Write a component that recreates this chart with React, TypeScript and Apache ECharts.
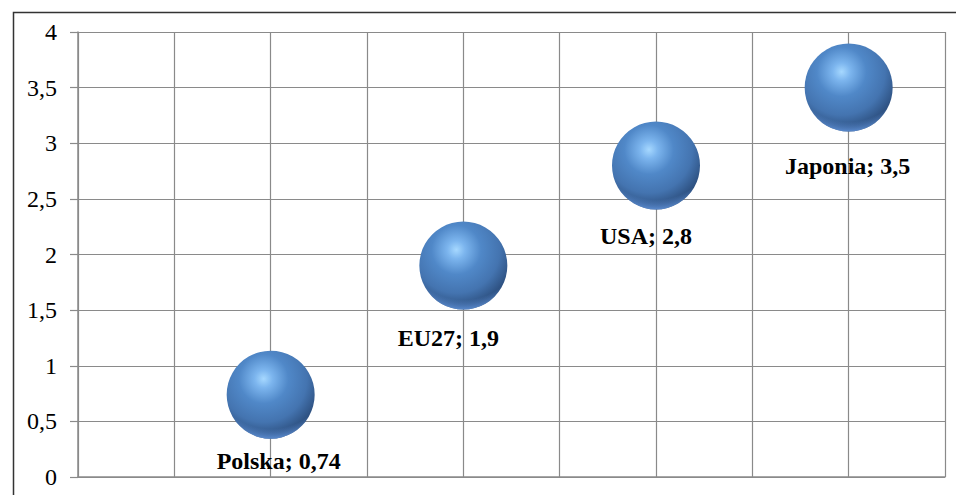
import React, { useEffect, useRef } from "react";
import * as echarts from "echarts";

const countries = ["Polska", "EU27", "USA", "Japonia"];
const xPositions = [2, 4, 6, 8];
const values = [0.74, 1.9, 2.8, 3.5];
const yTicks = ["0", "0,5", "1", "1,5", "2", "2,5", "3", "3,5", "4"];

// label nudges (style only)
const labelNudges = [[8, -6], [-15, 0], [-10, -2], [-1, 6]];

const fmt = (v: number) => String(v).replace(".", ",");
const FONT = "'Liberation Serif', 'Times New Roman', serif";

export default function App() {
  const ref = useRef<HTMLDivElement>(null);
  useEffect(() => {
    const chart = echarts.init(ref.current!, null, { renderer: "svg" });
    const sphere = {
      type: "radial",
      x: 0.42,
      y: 0.32,
      r: 0.85,
      colorStops: [
        { offset: 0, color: "#a6d8ff" },
        { offset: 0.12, color: "#7cb5ee" },
        { offset: 0.33, color: "#5088c8" },
        { offset: 0.58, color: "#4474b0" },
        { offset: 0.78, color: "#2d5080" },
        { offset: 0.95, color: "#1b2e47" },
        { offset: 1, color: "#1b2e47" },
      ],
    };
    const rim = {
      type: "radial",
      x: 0.5,
      y: 0.2,
      r: 0.8,
      colorStops: [
        { offset: 0, color: "rgba(90,140,210,0)" },
        { offset: 0.86, color: "rgba(90,140,210,0)" },
        { offset: 1, color: "rgba(95,145,215,0.9)" },
      ],
    };
    const pts = countries.map((c, i) => [xPositions[i], values[i]]);
    chart.setOption({
      animation: false,
      backgroundColor: "#fff",
      textStyle: { fontFamily: FONT },
      graphic: [
        {
          type: "rect",
          left: 11,
          top: 10,
          shape: { x: 0, y: 0, width: 960, height: 500 },
          style: { fill: "none", stroke: "#333", lineWidth: 1.5 },
          silent: true,
          z: -10,
        },
      ],
      grid: { left: 78, top: 32, right: 11, bottom: 18 },
      xAxis: {
        type: "value",
        min: 0,
        max: 9,
        interval: 1,
        axisLine: { show: true, lineStyle: { color: "#8a8a8a", width: 1.5 } },
        axisTick: { show: false },
        axisLabel: { show: false },
        splitLine: { show: true, lineStyle: { color: "#8a8a8a", width: 1.2 } },
      },
      yAxis: {
        type: "value",
        min: 0,
        max: 4,
        interval: 0.5,
        axisLine: { show: true, lineStyle: { color: "#8a8a8a", width: 1.5 } },
        axisTick: { show: true, length: 8, lineStyle: { color: "#8a8a8a", width: 1.2 } },
        axisLabel: {
          margin: 21,
          fontSize: 24,
          color: "#000",
          fontFamily: FONT,
          formatter: (v: number) => yTicks[Math.round(v * 2)] ?? fmt(v),
        },
        splitLine: { show: true, lineStyle: { color: "#8a8a8a", width: 1.2 } },
      },
      series: [
        {
          type: "scatter",
          symbol: "circle",
          symbolSize: 88,
          itemStyle: { color: sphere, opacity: 1 },
          data: countries.map((c, i) => ({
            name: c,
            value: pts[i],
            label: { offset: labelNudges[i] },
          })),
          label: {
            show: true,
            position: "bottom",
            distance: 16,
            fontSize: 24,
            fontWeight: "bold",
            color: "#000",
            fontFamily: FONT,
            formatter: (p: any) => `${p.name}; ${fmt(p.value[1])}`,
          },
          z: 2,
        },
        {
          type: "scatter",
          symbol: "circle",
          symbolSize: 88,
          silent: true,
          itemStyle: { color: rim, opacity: 1 },
          data: pts,
          label: { show: false },
          z: 3,
        },
      ],
    });
    return () => chart.dispose();
  }, []);
  return <div ref={ref} style={{ width: 956, height: 495, position: "absolute", left: 0, top: 0 }} />;
}
